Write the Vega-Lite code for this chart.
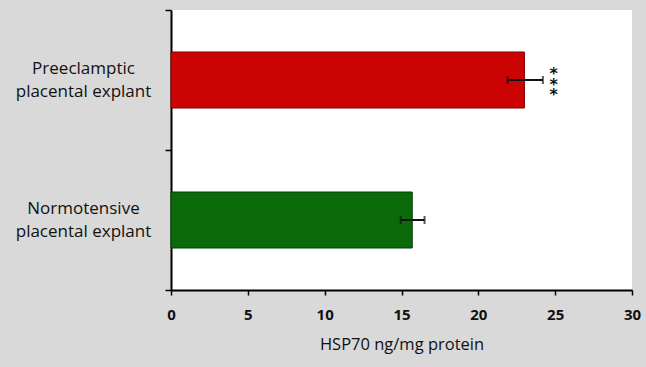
{
  "$schema": "https://vega.github.io/schema/vega-lite/v6.json",
  "width": 461,
  "height": 280,
  "autosize": {"type": "none"},
  "padding": {"left": 171, "top": 10, "right": 14, "bottom": 77},
  "background": "#d9d9d9",
  "config": {"view": {"fill": "white", "stroke": null}, "font": "Open Sans"},
  "data": {"values": [
    {"group": "Preeclamptic|placental explant", "value": 23.0, "low": 21.9, "high": 24.2, "sig": "*\n*\n*", "color": "#cc0404"},
    {"group": "Normotensive|placental explant", "value": 15.7, "low": 14.95, "high": 16.5, "sig": "", "color": "#0b6b0b"}
  ]},
  "encoding": {
    "y": {
      "field": "group", "type": "nominal",
      "sort": ["Preeclamptic|placental explant", "Normotensive|placental explant"],
      "scale": {"paddingInner": 0, "paddingOuter": 0},
      "axis": {
        "title": null, "tickBand": "extent", "domainColor": "black", "domainWidth": 2,
        "tickColor": "black", "tickWidth": 1.5, "tickSize": 6,
        "labelExpr": "datum.value ? split(datum.value, '|') : ''",
        "labelAlign": "center", "labelBaseline": "middle", "labelPadding": 82, "labelOffset": -11.5,
        "labelFontSize": 17, "labelColor": "#111", "labelLineHeight": 23, "labelFont": "Open Sans"
      }
    }
  },
  "layer": [
    {
      "mark": {"type": "bar", "height": {"band": 0.4}, "strokeWidth": 1},
      "encoding": {
        "x": {
          "field": "value", "type": "quantitative",
          "scale": {"domain": [0, 30], "nice": false},
          "axis": {
            "values": [0, 5, 10, 15, 20, 25, 30], "grid": false,
            "title": "HSP70 ng/mg protein", "titleFontSize": 16.5, "titleFontWeight": "normal",
            "titleColor": "#111", "titlePadding": 14, "titleFont": "Open Sans",
            "domainColor": "black", "domainWidth": 2, "tickColor": "black", "tickWidth": 1.5, "tickSize": 5,
            "labelFontSize": 15, "labelFontWeight": "bold", "labelColor": "#111", "labelPadding": 12,
            "labelFlush": false, "labelFont": "Open Sans"
          }
        },
        "fill": {"field": "color", "type": "nominal", "scale": null},
        "stroke": {"field": "color", "type": "nominal", "scale": {"range": ["#7a0000", "#044004"], "domain": ["#cc0404", "#0b6b0b"]}, "legend": null}
      }
    },
    {
      "mark": {"type": "rule", "color": "#111", "strokeWidth": 2},
      "encoding": {
        "x": {"field": "low", "type": "quantitative"},
        "x2": {"field": "high"}
      }
    },
    {
      "mark": {"type": "tick", "color": "#111", "size": 8, "thickness": 2, "orient": "vertical"},
      "encoding": {"x": {"field": "low", "type": "quantitative"}}
    },
    {
      "mark": {"type": "tick", "color": "#111", "size": 8, "thickness": 2, "orient": "vertical"},
      "encoding": {"x": {"field": "high", "type": "quantitative"}}
    },
    {
      "mark": {"type": "text", "lineBreak": "\n", "font": "DejaVu Sans", "fontSize": 16, "fontWeight": "bold", "lineHeight": 10.5, "baseline": "middle", "align": "center", "dy": -6, "fill": "#111"},
      "encoding": {
        "x": {"datum": 24.9, "type": "quantitative"},
        "text": {"field": "sig"}
      }
    }
  ]
}
